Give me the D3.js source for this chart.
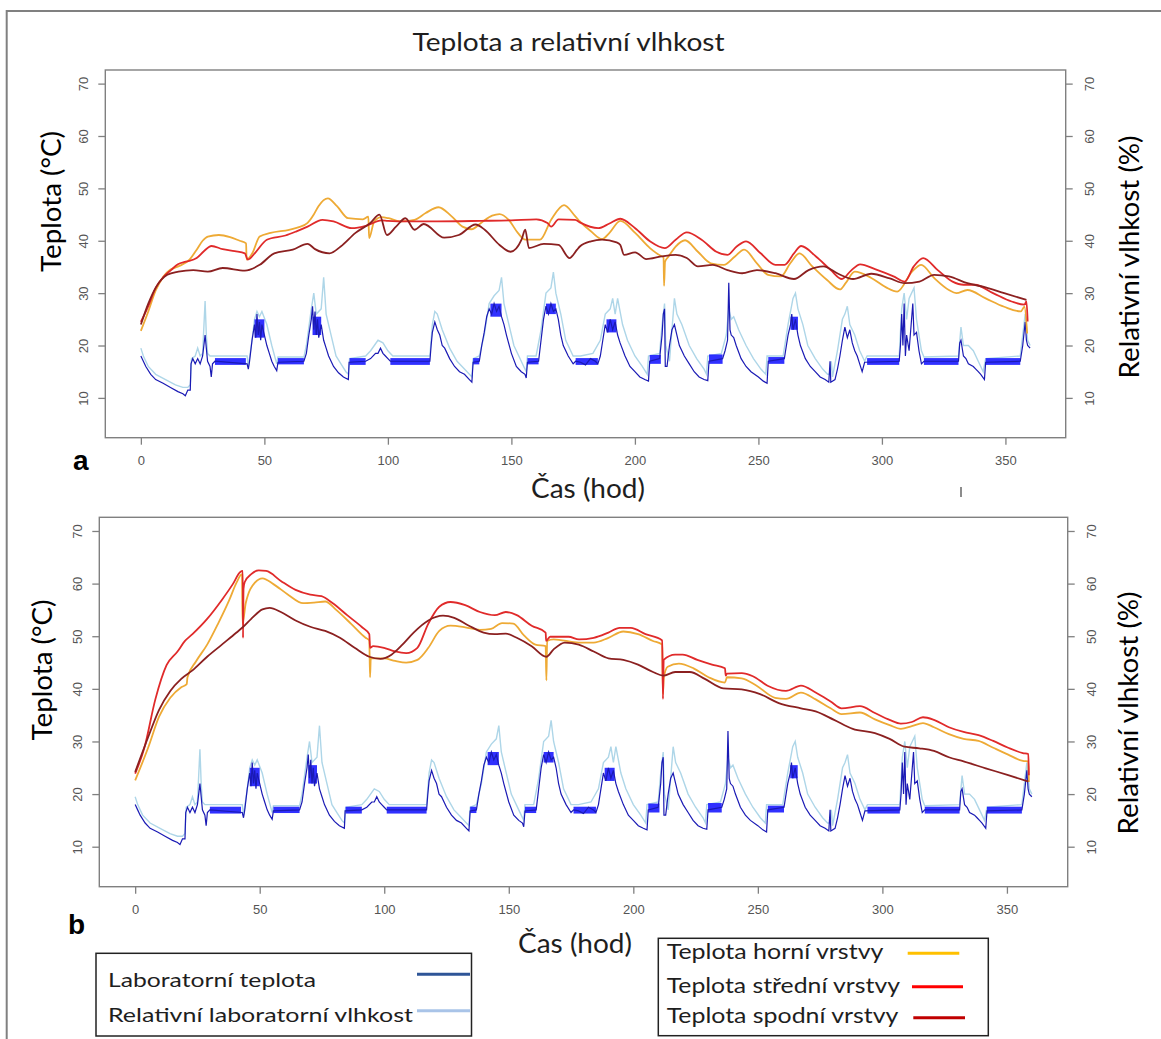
<!DOCTYPE html>
<html><head><meta charset="utf-8">
<script src="https://cdn.jsdelivr.net/npm/d3@7"></script>
<style>body{margin:0;background:#fff}svg{display:block}</style>
</head><body><svg id="c" width="1161" height="1039"></svg>
<script>
// ---------- DATA ----------
const hourTicks = [0, 50, 100, 150, 200, 250, 300, 350];
const valueTicks = [10, 20, 30, 40, 50, 60, 70];
const hourDomain = [-14.4, 374.4];
const valueDomain = [2.4, 72.6];

// Laboratory temperature (hours, °C) – shared by both panels
const labTemp = [[0,18],[1,17],[2,16],[4,14.5],[6,13.5],[9,12.8],[12,12],[15,11.2],[17,10.8],[18,10.4],[19,11.5],[20,11.5],[20.3,16.5],[21,17.5],[22,16.5],[23,17.5],[24,16.5],[25,18],[26,22],[27,17],[28,16],[28.5,14],[29,16.5],[30,17],[43,16.5],[43.5,15.5],[44,17],[45,21],[46,24],[46.5,21.5],[47,26],[47.5,22],[48,24.5],[48.5,21],[49,24],[50,22],[51,20],[52,18.5],[53,17],[54,16],[55,15.2],[55.5,16.8],[66,17],[67,18.5],[68,22],[69,25],[69.5,27.5],[70,23],[70.5,26.5],[71,22],[71.5,25],[72,21.5],[73,24],[74,21],[75,19.5],[76,18],[78,16],[80,14.8],[82,14],[84,13.5],[84.3,16.8],[91,17],[93,17.5],[95,18.5],[96,18.5],[97,19.5],[98,18.5],[99,18],[100,17.5],[101,17],[117,17],[117.5,20],[118,22.5],[119,24.5],[120,23],[121,22],[122,20],[123,19.5],[125,17.5],[127,16],[129,15],[131,14.5],[133,13.5],[134,13],[134.5,16.8],[137,17],[138,20],[139,22.5],[140,25.5],[141,27],[142,26],[143,28],[144,26.5],[145,27.5],[146,25.5],[147,24],[148,22],[150,18.5],[152,16],[154,15],[155.5,14.5],[156,13.8],[156.5,16.8],[161,17],[162,21],[163,25],[164,27.5],[165,26],[166,28],[167,26.5],[168,27],[169,25],[170,22],[171,20],[173,18],[175,16.5],[176,17],[178,16.8],[180,16.3],[182,17.5],[184,17],[185,16.5],[186,18],[187,21],[188,24],[189,22.5],[190,25],[191,23],[192,24.5],[193,22],[194,20.5],[196,18],[198,16],[200,15],[202,14],[204,13.5],[205.5,13.2],[206,17],[210,17.5],[211,22],[211.5,26],[212,27],[212.3,16],[213,16],[214,20],[215,23],[216,24],[217,22],[218,20],[220,18],[222,16.5],[224,15],[226,14],[228,13.5],[229.5,13.3],[230,17],[235.5,17.5],[236.5,19],[237.5,21],[238,32],[238.5,23],[239,22],[240,21.5],[241,20],[243,17.5],[245,16],[247,15],[250,14],[252,13.2],[253.5,12.8],[254,17],[260.5,17.5],[261,19],[262,22],[263,24],[263.5,26],[264,23],[265,25],[266,22],[267,20],[269,17.5],[271,16],[273,15],[275,14],[277,13.5],[278.5,13],[279,17],[279.3,13],[281,13.5],[282,15.5],[283,18],[284,21],[285,23.5],[286,21.5],[287,23],[288,20.5],[289,19],[290,18],[291,16.5],[292,15],[293,16.8],[307,17],[307.5,20],[308,26],[308.5,20],[309,28],[309.5,18],[310,22],[311,19],[312,25],[312.5,28],[313,22],[314,22.5],[315,19],[316,16.5],[317,17],[331,17],[331.5,20.5],[332,21],[333,18],[334,17.5],[335,16.5],[337,16],[338,15.5],[339,15],[340,14.5],[341.5,13.5],[342,16.8],[356,17],[357,20],[358,24.5],[358.5,21],[359,20],[360,19.5]];

// Dense oscillation bands of laboratory temperature [startHour, endHour, low, high]
const labTempBands = [[30,42.5,16.3,17.6],[55.5,66,16.4,17.6],[84.5,91,16.3,17.6],[101,117,16.3,17.6],[134.5,137,16.4,17.6],[156.5,161,16.4,17.6],[176,185,16.3,17.6],[206,210.5,16.5,18.2],[230,235.5,16.5,18.3],[254,260.5,16.5,17.8],[294,307,16.3,17.6],[317,331,16.3,17.6],[342,356,16.3,17.6],[46,50,21.5,25],[69.5,73,22,25.5],[141.5,146,25.5,28],[164,168,26,28],[188.5,192.5,22.5,25],[263,266,23,25.5]];

// Laboratory relative humidity (hours, %)
const labRH = [[0,19.5],[1,18],[3,16],[6,14.5],[10,13.5],[14,12.5],[17,12],[19,12],[20,12.5],[20.5,17.5],[22,18],[23,19.5],[24,18],[25,18.5],[26,28.5],[26.5,22],[27,18.5],[28,18],[30,18],[43,18],[43.5,16],[45,21],[46,25],[47,26.5],[48,25.5],[49,26.5],[51,24],[53,20],[55,16.5],[55.5,17.8],[66,17.8],[67,20],[69,27],[70,30],[71,26],[73,27],[74,33],[75,26],[77,22],[79,18],[81,16.5],[83,15],[84,14.5],[84.5,17.5],[91,18],[93,19],[96,21],[98,20.5],[100,19],[102,18],[117,18],[118,24],[119,26.5],[120,26],[122,23],[125,19.5],[128,17],[131,15.5],[134,14],[134.5,17.5],[137,18],[139,22],[141,28],[143,29.5],[145,30.5],[146,33],[147,28],[149,24],[151,20],[154,17],[156,15],[156.5,18],[160,18],[162,23],[164,30],[166,31],[167,34],[168,30],[170,26],[172,21],[175,18],[178,18],[183,18.5],[186,21],[188,26],[190,27],[191,29],[192,26],[193,29],[195,24],[197,21],[200,18],[203,16],[205,14.5],[205.5,18],[210,18.5],[211,24],[212,28],[212.5,20],[214,17],[215,23],[216,29],[217,26],[219,24],[222,20],[225,17.5],[228,15.5],[229,14.5],[229.5,18],[235,18.5],[237,22],[238,27],[239,25],[240,25.5],[242,23],[245,20],[248,17.5],[251,15.5],[253,14.5],[253.5,18],[260,18],[262,24],[264,29],[265,30],[266,27],[268,24],[270,20],[273,17.5],[276,15.5],[278,14.5],[279,14.5],[279.5,17],[280,14],[282,19],[284,25],[285,26],[286,27.5],[287,24],[289,22],[291,19],[293,17],[294,18],[307,18],[308,27],[309,30],[310,25],[311,29],[312,30],[313,31],[314,25],[316,19],[317,17.8],[331,18],[332,23.5],[333,20],[335,20],[337,19],[339,17],[341,15],[342,17.5],[356,18],[357,22],[358,26],[359,21],[360,20]];

// Panel a – layer temperatures
const topA = [[0,22.8],[3,26.5],[6,30.5],[9.2,33.2],[12,34.5],[15.2,35.1],[19.7,36.4],[22.6,38.3],[25,40],[27.1,40.8],[31.6,41.1],[36.1,40.7],[40,40],[42.6,39.5],[42.8,36.4],[45.1,37.6],[48.1,40.8],[52.5,41.5],[60,42.1],[64,42.6],[67.5,43.4],[70,45],[71.9,46.6],[75.7,48.1],[79.4,46.6],[83.9,44.3],[89.9,44.1],[92.1,44.6],[92.4,40.5],[94.4,43.6],[97.4,44.5],[100.3,44.3],[104.8,43.7],[110.8,44],[115.3,45.3],[120.5,46.4],[125.7,44.7],[130.2,42.7],[133.9,42.2],[137.7,43.4],[142.2,44.8],[145.2,45.1],[148.9,44],[152.6,41.5],[155.6,40.2],[161.6,40.2],[166.1,44],[171.3,46.8],[175.8,44.7],[177.7,43.7],[182.2,41.8],[186.7,40.3],[189.7,41.5],[194.1,43.8],[200.1,41.5],[206.1,38.6],[210.6,37.1],[211.6,36.9],[211.8,31.4],[212.2,36],[213.6,37],[216.5,38.9],[220.3,40.1],[225.5,37.9],[230.7,35.7],[236,35.4],[240.5,37],[244.2,38.3],[249.4,35.7],[253.9,33.5],[259.1,33.2],[262.9,35.7],[266.6,37.6],[271.8,35.1],[277.8,32.5],[283,30.7],[285.3,31.9],[289,34.1],[295.7,32.9],[301.7,31.1],[306.2,30.3],[312.2,34.1],[315.9,35.4],[321.1,32.9],[327.1,30.6],[330.1,30],[334.6,30.6],[342,29],[349.5,27.4],[356.2,26.5],[357.7,27.4],[358.8,22.3]];
const midA = [[0,24.5],[3,27.5],[6,31],[9,33],[12.2,34.4],[15,35.5],[18.2,36],[22.6,36.7],[25.5,38],[28.6,39],[33.1,38.4],[38,38],[42.1,37.6],[43.3,36.4],[46.6,37.9],[51,40.2],[58.5,41],[63,41.8],[67.5,42.7],[73.5,44],[78,43.7],[85.4,42.4],[91.4,42.9],[97.4,43.9],[100,43.8],[107.8,43.7],[120,43.7],[137.7,43.8],[150,43.9],[160.1,44.1],[164.6,43.4],[166.1,42.7],[169.1,44.1],[175.8,44],[177.7,43.5],[185.2,42.4],[189.7,43.3],[194.1,44.2],[200.1,42.4],[206.1,39.9],[212.1,38.6],[216.5,40.2],[221,41.6],[227,40.2],[233,37.9],[237.5,37.3],[241.2,38.9],[245,39.9],[250.9,37.6],[256.9,35.4],[260.6,35.4],[264.4,37.6],[267.3,39],[273.3,37],[279.3,34.4],[283.8,32.7],[287.5,34.3],[291.2,35.5],[297.2,34.6],[304.7,33.2],[309.2,32.2],[312.9,35.1],[316.7,36.7],[322.6,34.4],[328.6,32.2],[333.1,31.6],[337.6,31.6],[345,30],[352.5,28.4],[357.7,27.8],[358.5,28.4],[359,24.6]];
const botA = [[0,24],[3,28],[6.2,31.2],[10.7,33.5],[15.2,34.1],[21.2,34.4],[27.1,34.1],[33.1,34.8],[42.1,34.3],[48.1,35.4],[54,37.6],[61.5,38.3],[67.5,39.4],[70.5,38.4],[76.4,37.6],[80.9,38.9],[86.9,41.5],[92.9,43.4],[96.6,45],[99.6,41.1],[103.3,42.7],[107.1,44.3],[110.8,42.1],[114.5,43.2],[122.8,40.6],[128.7,41.1],[135.5,43.1],[139.2,42.1],[145.2,39.2],[149.7,37.9],[154.1,40.2],[155.6,42.1],[157.1,38.6],[163.1,39.4],[169.1,39.2],[173.5,36.7],[176.6,38.3],[177.7,38.9],[182.2,39.9],[186.7,40.2],[192.6,39.7],[194.1,39.2],[195.6,37.3],[200.1,37.8],[204.6,36.5],[210.6,37],[216.5,37.3],[221,36.7],[225.5,35.1],[231.5,35.4],[237.5,34.4],[243.4,33.8],[249.4,34.4],[256.9,33.8],[264.4,32.7],[270.3,34.4],[276.3,35.1],[282.3,33.7],[288.3,32.7],[295.7,33.7],[303.2,32.8],[309.2,31.9],[315.2,32.2],[321.1,33.5],[327.1,33.2],[334.6,31.9],[342,31.1],[349.5,30],[358.5,28.7]];

// Panel b – layer temperatures
const topB = [[0,22.6],[5.2,28.8],[9.6,34.7],[14.1,38.3],[18.5,40.3],[20.7,40.9],[21,42.2],[24.4,45.2],[28.9,48.4],[33.3,52.4],[37.8,56.9],[40.7,60.2],[42.9,61.8],[43.1,52.4],[44.4,56.3],[48.1,60.2],[51.1,61],[55.5,59.9],[61.4,57.9],[67.4,56.3],[71.8,56.4],[76.3,56.6],[80.7,55],[86.6,52.4],[92.5,49.7],[94,49.2],[94.3,42.2],[94.6,45.8],[99.9,45.8],[104.4,45.3],[108.8,45],[113.3,45.5],[117.7,47.8],[122.1,51],[126.6,52],[132.5,51.7],[138.4,51.2],[142.9,51.4],[147.3,52.5],[151.8,52.4],[156.2,50.1],[160.7,48.4],[164.8,48.1],[165.1,41.6],[165.4,49.1],[168,49.4],[178.1,48.8],[184.1,48.8],[190,49.7],[196,50.9],[201.9,50.4],[207.9,49.1],[211.6,48.4],[211.9,39],[212.2,42],[213.8,44.2],[218.3,44.8],[224.2,43.9],[230.2,42.2],[236.8,41.2],[237.6,42.2],[243.5,42],[249.5,40.6],[256.9,38.3],[261.3,38.1],[267.3,39.3],[273.2,38],[279.2,36.3],[283.6,35.2],[291,35.5],[297,34.2],[302.9,33.1],[307.4,32.4],[311.8,32.9],[316.3,33.5],[320.7,32.7],[326.7,31.4],[332.6,30.5],[338.6,30.1],[344.5,28.8],[350.5,27.5],[356.4,26.3],[358.6,26.2],[358.8,22.3]];
const midB = [[0,23.9],[3.7,28.8],[8.1,38],[12.6,44.5],[17,47.1],[20,49.1],[23,50.4],[28.9,53.3],[34.8,56.9],[39.2,59.9],[42.2,62.2],[43.2,62.4],[43.3,49.7],[43.5,59],[44,60.3],[46.6,61.8],[49.6,62.5],[52.6,62.4],[58.5,60.5],[64.4,58.8],[70.3,57.9],[74.8,57.6],[79.2,56.3],[85.1,54],[91.1,51.7],[94,50.4],[94.3,47.8],[95.5,48.1],[99.9,47.8],[104.4,47.1],[108.8,46.8],[113.3,47.8],[117.7,52.4],[122.1,55.6],[126.6,56.5],[132.5,55.9],[138.4,54.6],[144.4,54],[148.8,54.6],[153.2,54],[159.2,52],[164.8,50.7],[165,49.1],[166.6,49.9],[174,49.9],[178.2,49.4],[184.1,49.7],[190,50.7],[194.5,51.6],[199,51.6],[204.9,50.4],[211.6,49.2],[211.9,38.1],[212.2,45.5],[216.8,46.5],[219.8,46.5],[225.7,45.5],[231.6,44.6],[236.8,43.9],[237.1,42.5],[237.6,42.9],[243.5,43],[248,42.4],[253.9,40.6],[261.3,39.6],[267.3,40.6],[273.2,39.3],[279.2,37.6],[283.6,36.3],[291,36.7],[297,35.4],[302.9,34.1],[307.4,33.4],[311.8,33.7],[316.3,34.6],[320.7,34.1],[326.7,32.7],[332.6,31.8],[338.6,31.2],[344.5,30.1],[350.5,28.8],[356.4,27.8],[358.6,27.6],[358.8,23.6]];
const botB = [[0,24.2],[5.2,30.8],[9.6,36],[14.1,39.6],[18.5,41.9],[23,43.5],[28.9,46.1],[34.8,48.4],[40.7,50.7],[43.2,51.7],[46.6,53.3],[51.1,55.1],[54,55.4],[58.5,54.6],[64.4,53],[70.3,51.8],[76.3,51],[82.2,49.7],[88.1,47.8],[94,46.1],[98.5,45.7],[102.9,46.5],[107.3,48.4],[111.8,50.7],[117.7,53],[123.6,53.9],[128.1,53.5],[134,52],[139.9,50.7],[144.4,50.4],[148.8,50.5],[153.2,49.7],[159.2,48.1],[165.1,46.1],[168,47.5],[172.5,48.8],[178.1,48.4],[184.1,47.1],[190,45.8],[196,45.5],[201.9,44.6],[207.9,43.2],[212,42.5],[216.8,43.2],[222.7,43.2],[228.7,41.9],[236.1,40.1],[243.5,39.9],[250.9,39],[258.4,37.3],[267.3,36.3],[273.2,35.7],[280.6,34.1],[288.1,32.4],[297,31.6],[302.9,30.5],[308.9,29],[314.8,28.7],[320.7,28.2],[326.7,27],[332.6,26.2],[341.5,24.9],[350.5,23.6],[358.6,22.4]];

const legendLab = ["Laboratorní teplota", "Relativní laboratorní vlhkost"];
const legendLayers = ["Teplota horní vrstvy", "Teplota střední vrstvy", "Teplota spodní vrstvy"];

// ---------- STYLE ----------
const C = {rh:"#aed6e8", lab:"#1a1ab4", band:"#1a1aff", top:"#eeaa35", mid:"#e02a2a", bot:"#8b2020",
  frame:"#808080", tick:"#555", text:"#1e1e1e"};
const calib = "Lato, 'Open Sans', sans-serif";

const svg = d3.select("#c");
svg.append("rect").attr("width",1161).attr("height",1039).attr("fill","#fff");
svg.append("path").attr("d","M6.7,1045 V11 H1170").attr("fill","none").attr("stroke",C.frame).attr("stroke-width",2);

svg.append("text").attr("x",412.5).attr("y",50.5).attr("font-family",calib).attr("font-size",25)
  .attr("fill",C.text).attr("textLength",312).attr("lengthAdjust","spacingAndGlyphs").text("Teplota a relativní vlhkost");

function panel(p){
  const x = d3.scaleLinear().domain(hourDomain).range([p.x0,p.x1]);
  const y = d3.scaleLinear().domain(valueDomain).range([p.y1,p.y0]);
  const g = svg.append("g");
  const line = d3.line().x(d=>x(d[0])).y(d=>y(d[1]));
  const smooth = d3.line().x(d=>x(d[0])).y(d=>y(d[1])).curve(d3.curveMonotoneX);

  g.append("path").datum(labRH).attr("d",line).attr("fill","none").attr("stroke",C.rh).attr("stroke-width",1.4);
  g.selectAll(".band").data(labTempBands).enter().append("rect")
    .attr("x",d=>x(d[0])).attr("width",d=>x(d[1])-x(d[0]))
    .attr("y",d=>y(d[3])).attr("height",d=>y(d[2])-y(d[3])).attr("fill",C.band).attr("opacity",0.9);
  g.append("path").datum(labTemp).attr("d",line).attr("fill","none").attr("stroke",C.lab).attr("stroke-width",1.2);
  [[p.top,C.top],[p.mid,C.mid],[p.bot,C.bot]].forEach(([s,c])=>{
    g.append("path").datum(s).attr("d",smooth).attr("fill","none").attr("stroke",c).attr("stroke-width",1.8).attr("stroke-linejoin","round");
  });

  // box
  g.append("rect").attr("x",p.x0).attr("y",p.y0).attr("width",p.x1-p.x0).attr("height",p.y1-p.y0)
    .attr("fill","none").attr("stroke",C.frame).attr("stroke-width",1.4);

  const ax = g.append("g").attr("transform",`translate(0,${p.y1})`)
    .call(d3.axisBottom(x).tickValues(hourTicks).tickSize(7).tickFormat(d3.format("d")));
  ax.select(".domain").remove();
  ax.selectAll("line").attr("stroke",C.frame).attr("stroke-width",1.3);
  ax.selectAll("text").attr("y",null).attr("dy",null).attr("transform","translate(0,27)")
    .attr("font-family","'Liberation Sans', Arial, sans-serif").attr("font-size",13).attr("fill",C.tick);

  const ay = g.append("g").attr("transform",`translate(${p.x0},0)`)
    .call(d3.axisLeft(y).tickValues(valueTicks).tickSize(7).tickFormat(d3.format("d")));
  ay.select(".domain").remove();
  ay.selectAll("line").attr("stroke",C.frame).attr("stroke-width",1.3);
  ay.selectAll("text").attr("x",null).attr("dy",null).attr("transform","translate(-21.8,0) rotate(-90)")
    .attr("text-anchor","middle").attr("dominant-baseline","central")
    .attr("font-family","'Liberation Sans', Arial, sans-serif").attr("font-size",13).attr("fill",C.tick);

  const ar = g.append("g").attr("transform",`translate(${p.x1},0)`)
    .call(d3.axisRight(y).tickValues(valueTicks).tickSize(7).tickFormat(d3.format("d")));
  ar.select(".domain").remove();
  ar.selectAll("line").attr("stroke",C.frame).attr("stroke-width",1.3);
  ar.selectAll("text").attr("x",null).attr("dy",null).attr("transform","translate(23.3,0) rotate(-90)")
    .attr("text-anchor","middle").attr("dominant-baseline","central")
    .attr("font-family","'Liberation Sans', Arial, sans-serif").attr("font-size",13).attr("fill",C.tick);

  // titles
  svg.append("text").attr("transform",`translate(${p.ylx},${p.ylc}) rotate(-90)`).attr("text-anchor","middle")
    .attr("font-family",calib).attr("font-size",26).attr("fill","#000").attr("textLength",141)
    .attr("lengthAdjust","spacingAndGlyphs").text("Teplota (°C)");
  svg.append("text").attr("transform",`translate(${p.yrx},${p.yrc}) rotate(-90)`).attr("text-anchor","middle")
    .attr("font-family",calib).attr("font-size",26).attr("fill","#000").attr("textLength",243)
    .attr("lengthAdjust","spacingAndGlyphs").text("Relativní vlhkost (%)");
  svg.append("text").attr("x",p.xlc).attr("y",p.xly).attr("text-anchor","middle")
    .attr("font-family",calib).attr("font-size",26).attr("fill",C.text).attr("textLength",114)
    .attr("lengthAdjust","spacingAndGlyphs").text("Čas (hod)");
  svg.append("text").attr("x",p.lx).attr("y",p.ly).attr("font-family","'Liberation Sans', Arial, sans-serif")
    .attr("font-weight","bold").attr("font-size",28).attr("fill","#000").text(p.letter);
}

panel({x0:105.3,x1:1065.7,y0:70,y1:437.7,top:topA,mid:midA,bot:botA,
  ylx:61,ylc:201.5,yrx:1139,yrc:257,xlc:588,xly:497.5,lx:73,ly:470,letter:"a"});
panel({x0:99.3,x1:1067.7,y0:517.3,y1:886.7,top:topB,mid:midB,bot:botB,
  ylx:52,ylc:670,yrx:1138,yrc:713,xlc:575,xly:953,lx:68,ly:933.8,letter:"b"});

// stray mark
svg.append("line").attr("x1",961).attr("x2",961).attr("y1",487).attr("y2",497).attr("stroke","#666").attr("stroke-width",1.5);

// legend 1
const l1 = svg.append("g");
l1.append("rect").attr("x",96).attr("y",953.3).attr("width",375.5).attr("height",82.7).attr("fill","#fff").attr("stroke","#222").attr("stroke-width",1.5);
const l1len = [208, 305], l1y = [987.3, 1021.7], l1ly = [974.3, 1010.7], l1c = ["#2e5597", "#a9c4e8"];
legendLab.forEach((t,i)=>{
  l1.append("text").attr("x",108).attr("y",l1y[i]).attr("font-family",calib).attr("font-size",19).attr("fill",C.text)
    .attr("textLength",l1len[i]).attr("lengthAdjust","spacingAndGlyphs").text(t);
  l1.append("line").attr("x1",417).attr("x2",470).attr("y1",l1ly[i]).attr("y2",l1ly[i]).attr("stroke",l1c[i]).attr("stroke-width",3);
});
// legend 2
const l2 = svg.append("g");
l2.append("rect").attr("x",658.3).attr("y",938.3).attr("width",330).attr("height",97.4).attr("fill","#fff").attr("stroke","#222").attr("stroke-width",1.5);
const l2len = [216.7, 233.3, 231.7], l2y = [959.3, 992.7, 1023.3], l2ly = [953.3, 986.7, 1017.7],
  l2x = [[907.7,959.3],[912,963],[913.3,965]], l2c = ["#ffc000", "#ff0000", "#c00000"];
legendLayers.forEach((t,i)=>{
  l2.append("text").attr("x",666.7).attr("y",l2y[i]).attr("font-family",calib).attr("font-size",22).attr("fill",C.text)
    .attr("textLength",l2len[i]).attr("lengthAdjust","spacingAndGlyphs").text(t);
  l2.append("line").attr("x1",l2x[i][0]).attr("x2",l2x[i][1]).attr("y1",l2ly[i]).attr("y2",l2ly[i]).attr("stroke",l2c[i]).attr("stroke-width",3);
});
</script></body></html>
